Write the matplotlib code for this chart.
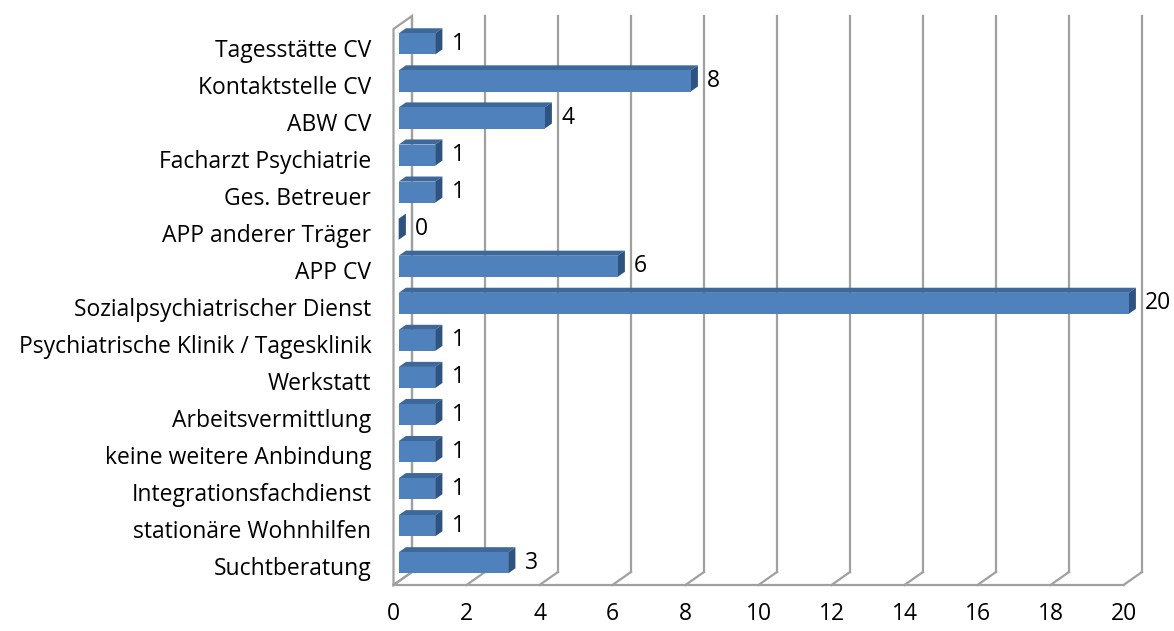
import matplotlib
matplotlib.use("Agg")
import matplotlib.pyplot as plt
from matplotlib.patches import Polygon, Rectangle

# categories listed top to bottom, as in the chart
categories = ['Tagesstätte CV', 'Kontaktstelle CV', 'ABW CV', 'Facharzt Psychiatrie',
              'Ges. Betreuer', 'APP anderer Träger', 'APP CV', 'Sozialpsychiatrischer Dienst',
              'Psychiatrische Klinik / Tagesklinik', 'Werkstatt', 'Arbeitsvermittlung',
              'keine weitere Anbindung', 'Integrationsfachdienst', 'stationäre Wohnhilfen',
              'Suchtberatung']
values = [1, 8, 4, 1, 1, 0, 6, 20, 1, 1, 1, 1, 1, 1, 3]
xticks = list(range(0, 21, 2))

FONT = 'Open Sans'
FS = 16.5

W, H = 1174, 631
fig = plt.figure(figsize=(W / 100, H / 100), dpi=100)
ax = fig.add_axes([393.5 / W, (H - 585) / H, 730 / W, 556 / H])
ax.set_xlim(0, 20)
ax.set_ylim(len(categories) - 0.5, -0.5)

# depth offset of the 3d box (value units / row units)
DX = 18.5 / 36.5
DY = -13 / 37.07
y0, y1 = len(categories) - 0.5, -0.5
wall = '#A0A0A0'
lw = 1.6

# left wall
ax.add_patch(Polygon([(0, y0), (0, y1), (DX, y1 + DY), (DX, y0 + DY)],
                     closed=True, fill=False, ec=wall, lw=lw, clip_on=False, zorder=1))
# floor front edge + back edge + diagonals
ax.plot([0, 20], [y0, y0], color=wall, lw=lw, clip_on=False, zorder=1)
for t in xticks:
    ax.plot([t, t + DX], [y0, y0 + DY], color=wall, lw=lw, clip_on=False, zorder=1)
    ax.plot([t + DX, t + DX], [y0 + DY, y1 + DY], color=wall, lw=lw, clip_on=False, zorder=1)

# bars
d0, d1 = 0.28, 0.67
bh = 0.57
front = '#4F81BD'
top = '#3D6899'
side = '#2E5380'
for i, v in enumerate(values):
    x0 = d0 * DX
    yc = i + d0 * DY
    yt, yb = yc - bh / 2, yc + bh / 2
    ddx, ddy = (d1 - d0) * DX, (d1 - d0) * DY
    ax.add_patch(Polygon([(x0, yt), (x0 + v, yt), (x0 + v + ddx, yt + ddy), (x0 + ddx, yt + ddy)],
                         closed=True, fc=top, ec='none', zorder=3, clip_on=False))
    ax.add_patch(Polygon([(x0 + v, yt), (x0 + v + ddx, yt + ddy), (x0 + v + ddx, yb + ddy), (x0 + v, yb)],
                         closed=True, fc=side, ec='none', zorder=3, clip_on=False))
    if v > 0:
        ax.add_patch(Rectangle((x0, yt), v, bh, fc=front, ec='none', zorder=4, clip_on=False))
    ax.text(x0 + v + ddx + 0.25, yc, str(v), ha='left', va='center', fontsize=FS,
            family=FONT, zorder=5)

for s in ax.spines.values():
    s.set_visible(False)
ax.set_xticks(xticks)
ax.set_xticklabels([str(t) for t in xticks], family=FONT, fontsize=FS)
ax.set_yticks(range(len(categories)))
ax.set_yticklabels(categories, family=FONT, fontsize=FS)
ax.tick_params(axis='x', length=0, pad=12)
ax.tick_params(axis='y', length=0, pad=16)
ax.set_facecolor('none')

fig.savefig('out.png', dpi=100)
